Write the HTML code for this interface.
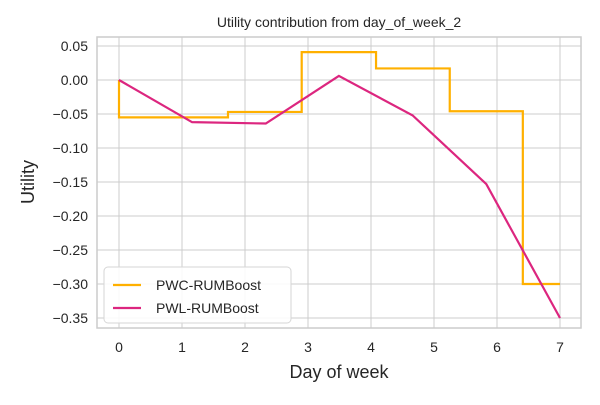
<!DOCTYPE html>
<html><head><meta charset="utf-8"><style>
body{margin:0;background:#fff;font-family:"Liberation Sans",sans-serif}
</style></head><body>
<svg id="c" width="600" height="400" xmlns="http://www.w3.org/2000/svg"></svg>
<script>
const xTicks=[0,1,2,3,4,5,6,7];
const yTicks=[0.05,0,-0.05,-0.1,-0.15,-0.2,-0.25,-0.3,-0.35];
const yTickLabels=["0.05","0.00","−0.05","−0.10","−0.15","−0.20","−0.25","−0.30","−0.35"];
const pwcX=[0,1.73,2.9,4.08,5.25,6.41,7];
const pwcY=[-0.055,-0.047,0.041,0.017,-0.046,-0.30];
const pwlX=[0,1.16,2.33,3.49,4.66,5.83,7];
const pwlY=[0,-0.062,-0.064,0.006,-0.052,-0.153,-0.35];
const L=97,R=581,T=37,B=328;
const sx=v=>119+v*63;
const sy=v=>80-v*680;
const svg=document.getElementById('c');
const NS='http://www.w3.org/2000/svg';
function mk(t,a,p){const e=document.createElementNS(NS,t);for(const k in a)e.setAttribute(k,a[k]);(p||svg).appendChild(e);return e;}
let g=mk('g',{});


xTicks.forEach((t,i)=>{
  mk('line',{x1:sx(t),x2:sx(t),y1:T,y2:B,stroke:'#cccccc','stroke-width':1},g);
  const tx=mk('text',{x:sx(t),y:B+24,'text-anchor':'middle','font-size':14,fill:'#262626'});
  tx.textContent=t;
  
  
});
yTicks.forEach((t,i)=>{
  mk('line',{x1:L,x2:R,y1:sy(t),y2:sy(t),stroke:'#cccccc','stroke-width':1},g);
  const tx=mk('text',{x:L-9,y:sy(t)+5,'text-anchor':'end','font-size':14,fill:'#262626'});
  tx.textContent=yTickLabels[i];
  
  
});
const fr=mk('rect',{x:L,y:T,width:R-L,height:B-T,fill:'none',stroke:'#cccccc','stroke-width':1.5});


let d='';
for(let i=0;i<pwcY.length;i++){
  d+=(i==0?'M':'L')+sx(pwcX[i])+','+sy(i==0?0:pwcY[i-1])+' ';
  d+='L'+sx(pwcX[i])+','+sy(pwcY[i])+' L'+sx(pwcX[i+1])+','+sy(pwcY[i])+' ';
}
const p1=mk('path',{d:d,fill:'none',stroke:'#ffb000','stroke-width':2.2});


const p2=mk('polyline',{points:pwlX.map((x,i)=>sx(x)+','+sy(pwlY[i])).join(' '),fill:'none',stroke:'#dc267f','stroke-width':2.2});


const ti=mk('text',{x:339,y:27,'text-anchor':'middle','font-size':14,fill:'#262626'});
ti.textContent='Utility contribution from day_of_week_2';


const xl=mk('text',{x:339,y:378,'text-anchor':'middle','font-size':18,fill:'#262626'});
xl.textContent='Day of week';


const yl=mk('text',{x:34,y:182,'text-anchor':'middle','font-size':18,fill:'#262626',transform:'rotate(-90 34 182)'});
yl.textContent='Utility';


const lg=mk('g',{});


mk('rect',{x:104,y:267,width:187,height:56,rx:4,fill:'#fff','fill-opacity':0.85,stroke:'#d6d6d6'},lg);
[['PWC-RUMBoost','#ffb000',285],['PWL-RUMBoost','#dc267f',308]].forEach(([n,c,y])=>{
  const e=mk('g',{},lg);
  
  
  mk('line',{x1:113,x2:141,y1:y,y2:y,stroke:c,'stroke-width':2.2},e);
  const t=mk('text',{x:156,y:y+5,'font-size':14,fill:'#262626'},e);
  t.textContent=n;
});
</script>
</body></html>
